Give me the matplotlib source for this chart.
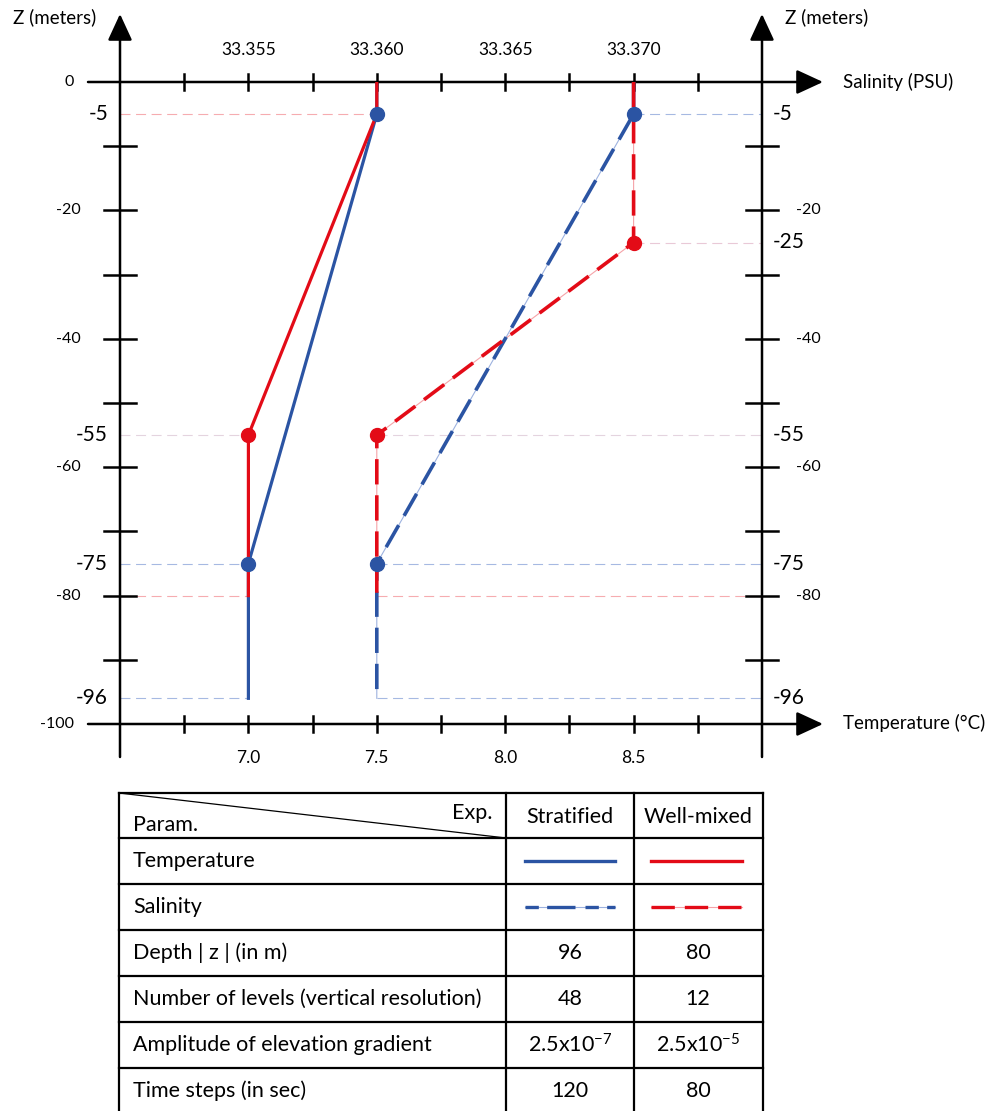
import matplotlib
matplotlib.use("Agg")
import matplotlib.pyplot as plt

plt.rcParams['font.family'] = ['Lato', 'DejaVu Sans']
plt.rcParams['mathtext.default'] = 'regular'

# ---- data ----
# stratified experiment
strat_z = [0, -5, -75, -96]
strat_temp = [7.5, 7.5, 7.0, 7.0]
strat_sal = [33.370, 33.370, 33.360, 33.360]
strat_knee_z = [-5, -75]
strat_knee_temp = [7.5, 7.0]
strat_knee_sal = [33.370, 33.360]

# well-mixed experiment
mixed_temp_z = [0, -5, -55, -80]
mixed_temp = [7.5, 7.5, 7.0, 7.0]
mixed_sal_z = [0, -25, -55, -80]
mixed_sal = [33.370, 33.370, 33.360, 33.360]
mixed_knee_temp_z = [-55]
mixed_knee_temp = [7.0]
mixed_knee_sal_z = [-25, -55]
mixed_knee_sal = [33.370, 33.360]

temp_ticks = [7.0, 7.5, 8.0, 8.5]
sal_ticks = [33.355, 33.360, 33.365, 33.370]
left_small = [0, -20, -40, -60, -80, -100]
right_small = [-20, -40, -60, -80]
left_big = [-5, -55, -75, -96]
right_big = [-5, -25, -55, -75, -96]

table_rows = ["Temperature", "Salinity", "Depth | z | (in m)",
              "Number of levels (vertical resolution)",
              "Amplitude of elevation gradient", "Time steps (in sec)"]
table_strat = ["", "", "96", "48", r"2.5x10$^{-7}$", "120"]
table_mixed = ["", "", "80", "12", r"2.5x10$^{-5}$", "80"]

BLUE = '#2b54a3'
RED = '#e30b17'
PBLUE = '#9db2df'
PRED = '#f5a3a8'
W, H = 989, 1111

fig = plt.figure(figsize=(W / 100, H / 100), dpi=100)
# axes box: x 120..762 px, y 82..724 px
ax = fig.add_axes([120 / W, 1 - 724 / H, 642 / W, 642 / H])
ax.set_xlim(6.5, 9.0)
ax.set_ylim(-100, 0)
ax.axis('off')
ax2 = ax.twiny()
ax2.set_xlim(33.350, 33.375)
ax2.axis('off')

dx = 2.5 / 642   # deg per pixel
dz = 100 / 642   # m per pixel

# guide lines (thin, pale, dashed)
def guide(a, x0, x1, z, c):
    a.plot([x0, x1], [z, z], color=c, lw=0.8, ls=(0, (9, 5)), alpha=0.9, zorder=1)

guide(ax, 6.5, 7.5, -5, PRED)
guide(ax, 8.5, 9.0, -5, PBLUE)
guide(ax, 8.5, 9.0, -25, '#e7c3d3')
guide(ax, 6.5, 7.0, -55, '#e2d0dc')
guide(ax, 7.5, 9.0, -55, '#e2d0dc')
guide(ax, 6.5, 7.0, -75, PBLUE)
guide(ax, 7.5, 9.0, -75, PBLUE)
guide(ax, 6.5, 7.0, -80, PRED)
guide(ax, 7.5, 9.0, -80, PRED)
guide(ax, 6.5, 7.0, -96, PBLUE)
guide(ax, 7.5, 9.0, -96, PBLUE)

# profiles
ax.plot(strat_temp, strat_z, color=BLUE, lw=2.3, zorder=3)
ax2.plot(strat_sal, strat_z, color=PBLUE, lw=0.8, zorder=2)
ax2.plot(strat_sal, strat_z, color=BLUE, lw=2.6, ls=(0, (7, 3)), zorder=3)
ax.plot(mixed_temp, mixed_temp_z, color=RED, lw=2.3, zorder=4)
ax2.plot(mixed_sal, mixed_sal_z, color=PRED, lw=0.8, zorder=2)
ax2.plot(mixed_sal, mixed_sal_z, color=RED, lw=2.6, ls=(0, (7, 3)), zorder=4)

ax.plot(strat_knee_temp, strat_knee_z, 'o', color=BLUE, ms=10, zorder=5)
ax2.plot(strat_knee_sal, strat_knee_z, 'o', color=BLUE, ms=10, zorder=5)
ax.plot(mixed_knee_temp, mixed_knee_temp_z, 'o', color=RED, ms=10, zorder=5)
ax2.plot(mixed_knee_sal, mixed_knee_sal_z, 'o', color=RED, ms=10, zorder=5)

# hand-drawn axes with arrows
arrow = dict(arrowstyle='-|>,head_length=0.65,head_width=0.3', color='k',
             lw=1.8, mutation_scale=25, shrinkA=0, shrinkB=0)
for xa in (6.5, 9.0):
    ax.annotate('', xy=(xa, 68 * dz), xytext=(xa, -100 - 33 * dz),
                arrowprops=arrow, annotation_clip=False)
for za in (0, -100):
    ax.annotate('', xy=(9.0 + 61 * dx, za), xytext=(6.5 - 32 * dx, za),
                arrowprops=arrow, annotation_clip=False)

# ticks
for k in range(1, 10):
    t = 6.5 + 0.25 * k
    for za in (0, -100):
        ax.plot([t, t], [za - 8 * dz, za + 8 * dz], color='k', lw=1.8, clip_on=False)
    z = -10 * k
    for xa in (6.5, 9.0):
        ax.plot([xa - 16 * dx, xa + 16 * dx], [z, z], color='k', lw=1.8, clip_on=False)

# tick labels
for t in temp_ticks:
    ax.text(t, -100 - 34 * dz, f"{t:.1f}", ha='center', va='center', fontsize=12.5)
for s in sal_ticks:
    ax2.text(s, 32 * dz, f"{s:.3f}", ha='center', va='center', fontsize=12.5)
for z in left_small:
    xr = 6.5 - (46 if z in (0, -100) else 39) * dx
    ax.text(xr, z, f"{z}", ha='right', va='center', fontsize=11.5)
for z in left_big:
    ax.text(6.5 - 12 * dx, z, f"{z}", ha='right', va='center', fontsize=15)
for z in right_small:
    ax.text(9.0 + 34 * dx, z, f"{z}", ha='left', va='center', fontsize=11.5)
for z in right_big:
    ax.text(9.0 + 11 * dx, z, f"{z}", ha='left', va='center', fontsize=15)

# axis titles
fig.text(55 / W, 1 - 17 / H, "Z (meters)", ha='center', va='center', fontsize=13.5)
fig.text(827 / W, 1 - 17 / H, "Z (meters)", ha='center', va='center', fontsize=13.5)
fig.text(843 / W, 1 - 82 / H, "Salinity (PSU)", ha='left', va='center', fontsize=13.5)
fig.text(843 / W, 1 - 723 / H, "Temperature (°C)", ha='left', va='center', fontsize=13.5)

# ---- table ----
# x: 119..763 px, y: 793..1115 px (bottom edge falls just off the figure)
tx0, tx1, ty0, ty1 = 119, 763, 793, 1115
tab = fig.add_axes([tx0 / W, 1 - ty1 / H, (tx1 - tx0) / W, (ty1 - ty0) / H])
tab.set_xlim(tx0, tx1)
tab.set_ylim(ty1, ty0)
tab.axis('off')
cols = [119, 506, 634, 763]
rows = [793, 838, 884, 930, 976, 1022, 1068, 1114]
for c in cols:
    tab.plot([c, c], [rows[0], rows[-1]], color='k', lw=1.6, clip_on=False)
for r in rows:
    tab.plot([cols[0], cols[-1]], [r, r], color='k', lw=1.6, clip_on=False)
tab.plot([cols[0], cols[1]], [rows[0], rows[1]], color='k', lw=0.9)

fs = 15.5
tab.text(133, 825, "Param.", ha='left', va='center', fontsize=fs)
tab.text(492, 813, "Exp.", ha='right', va='center', fontsize=fs)
tab.text(570, 817, "Stratified", ha='center', va='center', fontsize=fs)
tab.text(698, 817, "Well-mixed", ha='center', va='center', fontsize=fs)
for i, lab in enumerate(table_rows):
    yc = (rows[i + 1] + rows[i + 2]) / 2
    tab.text(133, yc, lab, ha='left', va='center', fontsize=fs)
    tab.text(570, yc, table_strat[i], ha='center', va='center', fontsize=fs)
    tab.text(698, yc, table_mixed[i], ha='center', va='center', fontsize=fs)

# legend samples in the table
y_t = (rows[1] + rows[2]) / 2
y_s = (rows[2] + rows[3]) / 2
tab.plot([525, 615], [y_t, y_t], color=BLUE, lw=2.4)
tab.plot([651, 742], [y_t, y_t], color=RED, lw=2.4)
tab.plot([525, 615], [y_s, y_s], color=PBLUE, lw=0.8)
tab.plot([525, 615], [y_s, y_s], color=BLUE, lw=2.4, ls=(0, (4, 2.5, 8.5, 3)))
tab.plot([651, 742], [y_s, y_s], color=PRED, lw=0.8)
tab.plot([651, 742], [y_s, y_s], color=RED, lw=2.4, ls=(0, (7, 3)))

fig.savefig('out.png', dpi=100)
